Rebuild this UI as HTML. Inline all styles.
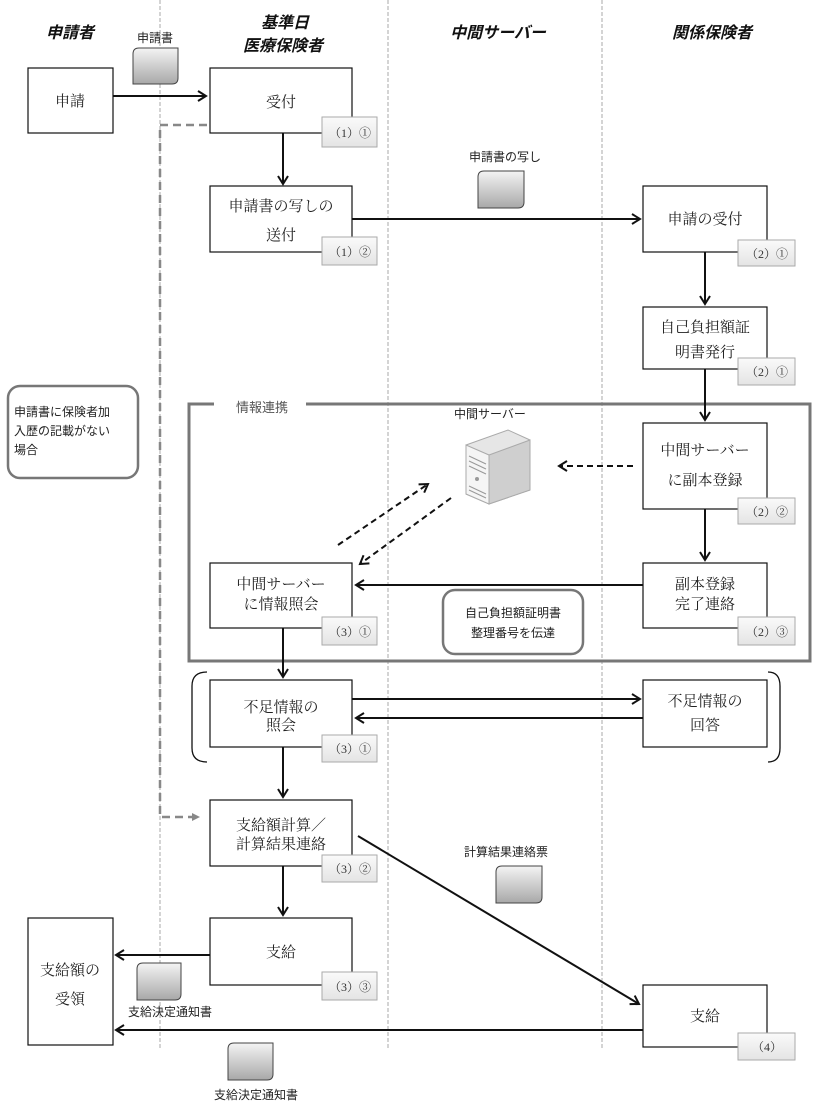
<!DOCTYPE html>
<html><head><meta charset="utf-8"><style>
html,body{margin:0;padding:0;background:#fff;}
svg{display:block}
.t{font-family:"Liberation Serif","Noto Serif CJK SC",serif;font-size:15px;fill:#222;text-anchor:middle}
.h{font-family:"Liberation Sans","Noto Sans CJK JP",sans-serif;font-size:16px;font-weight:bold;font-style:italic;fill:#111;text-anchor:middle}
.s{font-family:"Liberation Sans","Noto Sans CJK JP",sans-serif;font-size:12px;fill:#222;text-anchor:middle}
.b{font-family:"Liberation Serif","Noto Serif CJK SC",serif;font-size:12px;fill:#333;text-anchor:middle}
</style></head><body>
<svg width="815" height="1104" viewBox="0 0 815 1104" xmlns="http://www.w3.org/2000/svg">
<defs>
<linearGradient id="g" x1="0" y1="0" x2="0" y2="1"><stop offset="0" stop-color="#f4f4f4"/><stop offset="1" stop-color="#a8a8a8"/></linearGradient>
<linearGradient id="bg" x1="0" y1="0" x2="0" y2="1"><stop offset="0" stop-color="#fafafa"/><stop offset="1" stop-color="#e4e4e4"/></linearGradient>
<marker id="a" markerWidth="12" markerHeight="12" refX="9" refY="6" orient="auto" markerUnits="userSpaceOnUse"><path d="M1,1 L9,6 L1,11" fill="none" stroke="#111" stroke-width="2"/></marker>
<marker id="ag" markerWidth="10" markerHeight="10" refX="8" refY="5" orient="auto" markerUnits="userSpaceOnUse"><path d="M0,1 L8,5 L0,9z" fill="#888"/></marker>
</defs>
<g stroke="#aaa" stroke-width="1" stroke-dasharray="4,2">
<line x1="160" y1="0" x2="160" y2="1050"/><line x1="388" y1="0" x2="388" y2="1050"/><line x1="602" y1="0" x2="602" y2="1050"/></g>
<text class="h" x="70" y="38">申請者</text>
<text class="h" x="285" y="28">基準日</text>
<text class="h" x="283" y="51">医療保険者</text>
<text class="h" x="498" y="38">中間サーバー</text>
<text class="h" x="712" y="38">関係保険者</text>
<rect x="189" y="404" width="621" height="257" fill="none" stroke="#777" stroke-width="3"/>
<rect x="214" y="398" width="92" height="14" fill="#fff"/>
<text class="s" x="262" y="412" style="font-size:13px;fill:#555">情報連携</text>
<path d="M207,125 H160 V817 H200" fill="none" stroke="#888" stroke-width="2.5" stroke-dasharray="8,5" marker-end="url(#ag)"/>
<g fill="#fff" stroke="#111" stroke-width="1.2">
<rect x="28" y="68" width="85" height="65"/>
<rect x="210" y="68" width="142" height="65"/>
<rect x="210" y="186" width="142" height="66"/>
<rect x="643" y="186" width="124" height="66"/>
<rect x="643" y="307" width="124" height="62"/>
<rect x="643" y="423" width="124" height="86"/>
<rect x="643" y="563" width="124" height="65"/>
<rect x="210" y="563" width="142" height="65"/>
<rect x="210" y="680" width="142" height="67"/>
<rect x="643" y="680" width="124" height="67"/>
<rect x="210" y="800" width="142" height="66"/>
<rect x="210" y="918" width="142" height="67"/>
<rect x="28" y="918" width="85" height="127"/>
<rect x="643" y="985" width="124" height="62"/>
</g>
<text class="t" x="70" y="106">申請</text>
<text class="t" x="281" y="107">受付</text>
<text class="t" x="281" y="211">申請書の写しの</text>
<text class="t" x="281" y="240">送付</text>
<text class="t" x="705" y="224">申請の受付</text>
<text class="t" x="705" y="332">自己負担額証</text>
<text class="t" x="705" y="357">明書発行</text>
<text class="t" x="705" y="455">中間サーバー</text>
<text class="t" x="705" y="485">に副本登録</text>
<text class="t" x="705" y="589">副本登録</text>
<text class="t" x="705" y="609">完了連絡</text>
<text class="t" x="281" y="589">中間サーバー</text>
<text class="t" x="281" y="609">に情報照会</text>
<text class="t" x="281" y="712">不足情報の</text>
<text class="t" x="281" y="730">照会</text>
<text class="t" x="705" y="706">不足情報の</text>
<text class="t" x="705" y="730">回答</text>
<text class="t" x="281" y="830">支給額計算／</text>
<text class="t" x="281" y="849">計算結果連絡</text>
<text class="t" x="281" y="957">支給</text>
<text class="t" x="70" y="975">支給額の</text>
<text class="t" x="70" y="1004">受領</text>
<text class="t" x="705" y="1021">支給</text>
<g fill="url(#bg)" stroke="#aaa" stroke-width="1">
<rect x="322" y="117" width="55" height="30"/><rect x="322" y="237" width="55" height="28"/>
<rect x="738" y="240" width="57" height="26"/><rect x="738" y="358" width="57" height="27"/>
<rect x="738" y="498" width="57" height="26"/><rect x="738" y="617" width="57" height="28"/>
<rect x="322" y="617" width="55" height="28"/><rect x="322" y="735" width="55" height="27"/>
<rect x="322" y="855" width="55" height="27"/><rect x="322" y="972" width="55" height="28"/>
<rect x="738" y="1033" width="57" height="27"/></g>
<text class="b" x="350" y="137">（1）①</text><text class="b" x="350" y="256">（1）②</text>
<text class="b" x="767" y="258">（2）①</text><text class="b" x="767" y="376">（2）①</text>
<text class="b" x="767" y="516">（2）②</text><text class="b" x="767" y="636">（2）③</text>
<text class="b" x="350" y="636">（3）①</text><text class="b" x="350" y="753">（3）①</text>
<text class="b" x="350" y="873">（3）②</text><text class="b" x="350" y="991">（3）③</text>
<text class="b" x="767" y="1051">（4）</text>
<rect x="8" y="386" width="130" height="92" rx="12" fill="#fff" stroke="#777" stroke-width="2.5"/>
<text class="s" x="14" y="416" style="text-anchor:start">申請書に保険者加</text>
<text class="s" x="14" y="435" style="text-anchor:start">入歴の記載がない</text>
<text class="s" x="14" y="454" style="text-anchor:start">場合</text>
<rect x="443" y="590" width="140" height="64" rx="12" fill="#fff" stroke="#777" stroke-width="2.5"/>
<text class="s" x="513" y="617">自己負担額証明書</text>
<text class="s" x="513" y="637">整理番号を伝達</text>
<path d="M207,672 Q192,672 192,686 V748 Q192,762 207,762" fill="none" stroke="#111" stroke-width="1.3"/>
<path d="M768,672 Q780,672 780,686 V748 Q780,762 768,762" fill="none" stroke="#111" stroke-width="1.3"/>
<g fill="url(#g)" stroke="#444" stroke-width="1">
<path d="M139,48 H178 V78 Q178,84 172,84 H133 V54 Q133,48 139,48z"/>
<path d="M484,171 H524 V202 Q524,208 518,208 H478 V177 Q478,171 484,171z"/>
<path d="M502,866 H542 V897 Q542,903 536,903 H496 V872 Q496,866 502,866z"/>
<path d="M143,963 H181 V994 Q181,1000 175,1000 H137 V969 Q137,963 143,963z"/>
<path d="M234,1043 H273 V1074 Q273,1080 267,1080 H228 V1049 Q228,1043 234,1043z"/>
</g>
<text class="s" x="155" y="42">申請書</text>
<text class="s" x="505" y="161">申請書の写し</text>
<text class="s" x="506" y="856">計算結果連絡票</text>
<text class="s" x="170" y="1016">支給決定通知書</text>
<text class="s" x="256" y="1099">支給決定通知書</text>
<text class="s" x="490" y="418">中間サーバー</text>
<path d="M466,445 L508,430 L530,440 L530,490 L489,504 L466,494z" fill="#e6e6e6" stroke="#aaa"/>
<path d="M466,445 L489,455 L489,504 L466,494z" fill="#f5f5f5" stroke="#aaa"/>
<path d="M489,455 L530,440 L530,490 L489,504z" fill="#cfcfcf" stroke="#aaa"/>
<g stroke="#999"><line x1="469" y1="456" x2="486" y2="464"/><line x1="469" y1="461" x2="486" y2="469"/><line x1="469" y1="466" x2="486" y2="474"/><line x1="469" y1="486" x2="486" y2="494"/><line x1="469" y1="490" x2="486" y2="498"/></g>
<circle cx="477" cy="479" r="2" fill="#999"/>
<g stroke="#111" stroke-width="2" fill="none" marker-end="url(#a)">
<line x1="113" y1="96" x2="206" y2="96"/>
<line x1="283" y1="133" x2="283" y2="184"/>
<line x1="352" y1="219" x2="640" y2="219"/>
<line x1="705" y1="252" x2="705" y2="304"/>
<line x1="705" y1="369" x2="705" y2="420"/>
<line x1="705" y1="509" x2="705" y2="560"/>
<line x1="643" y1="585" x2="356" y2="585"/>
<line x1="283" y1="628" x2="283" y2="677"/>
<line x1="352" y1="699" x2="640" y2="699"/>
<line x1="643" y1="718" x2="356" y2="718"/>
<line x1="283" y1="747" x2="283" y2="797"/>
<line x1="283" y1="866" x2="283" y2="915"/>
<line x1="358" y1="836" x2="639" y2="1004"/>
<line x1="210" y1="955" x2="116" y2="955"/>
<line x1="643" y1="1030" x2="116" y2="1030"/>
</g>
<g stroke="#111" stroke-width="2" fill="none" stroke-dasharray="6,4" marker-end="url(#a)">
<line x1="633" y1="466" x2="559" y2="466"/>
<line x1="338" y1="545" x2="428" y2="484"/>
<line x1="451" y1="498" x2="360" y2="564"/>
</g>
</svg>
</body></html>
